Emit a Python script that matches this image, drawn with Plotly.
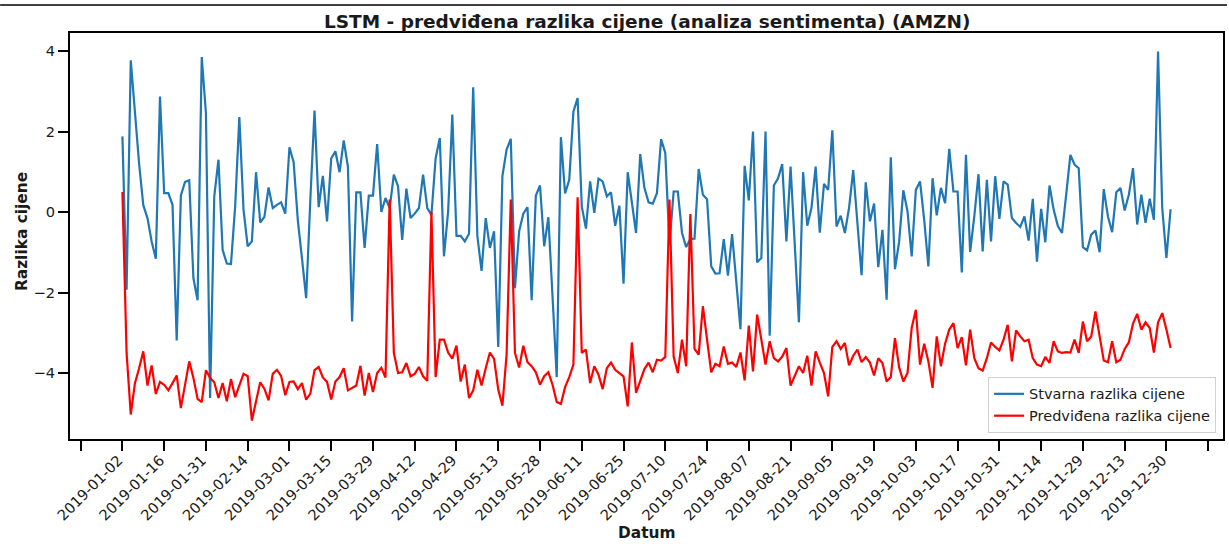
import plotly.graph_objects as go

# Daily price change of AMZN over the 2019 trading days (index 0 = 2019-01-02)
actual = [
    1.88, -1.93, 3.77, 2.5, 1.2, 0.17, -0.15, -0.73, -1.16, 2.87,
    0.47, 0.47, 0.18, -3.19, 0.41, 0.75, 0.79, -1.64, -2.19, 3.85,
    2.46, -4.62, 0.39, 1.30, -0.94, -1.28, -1.29, 0.14, 2.36, 0.06,
    -0.85, -0.73, 0.99, -0.26, -0.12, 0.61, 0.10, 0.18, 0.24, -0.04,
    1.61, 1.24, -0.2, -1.15, -2.14, 0.3, 2.52, 0.12, 0.90, -0.23,
    1.33, 1.51, 0.99, 1.78, 1.13, -2.72, 0.49, 0.49, -0.89, 0.41,
    0.41, 1.69, 0.0, 0.35, 0.10, 0.93, 0.64, -0.69, 0.58, -0.15,
    -0.04, 0.10, 0.93, 0.10, -0.07, 1.33, 1.84, -1.10, 0.02, 2.42,
    -0.59, -0.59, -0.73, -0.54, 3.10, -0.60, -1.46, -0.15, -0.89, -0.48,
    -3.35, 0.90, 1.55, 1.82, -1.89, -0.48, -0.04, 0.12, -2.19, 0.41,
    0.66, -0.85, -0.13, -2.1, -4.10, 1.86, 0.46, 0.80, 2.50, 2.83,
    0.14, -0.41, 0.76, -0.02, 0.83, 0.76, 0.39, 0.49, -0.34, 0.16,
    -1.78, 0.99, 0.22, -0.52, 1.44, 0.60, 0.24, 0.21, 0.47, 1.81,
    1.47, -0.81, 0.51, 0.51, -0.52, -0.87, -0.67, -0.66, 1.07, 0.43,
    0.32, -1.35, -1.53, -1.52, -0.67, -1.58, -0.55, -1.7, -2.91, 1.15,
    0.29, 2.00, -1.25, -1.14, 2.00, -3.07, 0.66, 0.84, 1.19, -0.73,
    1.13, -0.8, -2.74, 0.99, -0.34, 0.10, 1.13, -0.51, 0.70, 0.55,
    2.03, -0.36, -0.09, -0.52, 0.10, 1.04, -0.25, -1.57, 0.74, -0.23,
    0.21, -1.37, -0.44, -2.18, 1.36, -1.42, -0.73, 0.54, 0.02, -1.10,
    0.55, 0.76, -0.2, -1.35, 0.84, -0.08, 0.60, 0.22, 1.57, 0.51,
    0.51, -1.50, 1.42, -0.99, -0.1, 0.94, -0.98, 0.80, -0.73, 0.89,
    -0.17, 0.76, 0.68, -0.15, -0.27, -0.37, -0.11, -0.71, 0.33, -1.23,
    0.08, -0.75, 0.66, 0.06, -0.35, -0.52, 0.43, 1.42, 1.18, 1.09,
    -0.87, -0.95, -0.56, -0.46, -1.00, 0.57, -0.11, -0.50, 0.49, 0.60,
    0.04, 0.43, 1.09, -0.31, 0.43, -0.27, 0.33, -0.19, 3.99, 0.1,
    -1.14, 0.07,
]

# LSTM prediction of the same quantity (sentiment-based model)
predicted = [
    0.5, -3.5, -5.03, -4.25, -3.88, -3.46, -4.31, -3.81, -4.52, -4.22,
    -4.29, -4.43, -4.25, -4.06, -4.87, -4.33, -3.71, -4.12, -4.64, -4.72,
    -3.93, -4.12, -4.23, -4.62, -4.25, -4.70, -4.15, -4.60, -4.33, -4.02,
    -4.08, -5.18, -4.70, -4.23, -4.39, -4.68, -4.02, -3.92, -4.07, -4.55,
    -4.22, -4.21, -4.40, -4.25, -4.66, -4.51, -3.93, -3.85, -4.11, -4.22,
    -4.66, -4.21, -4.10, -3.88, -4.43, -4.37, -4.31, -3.82, -4.56, -4.00,
    -4.47, -4.00, -3.87, -4.11, 0.31, -3.50, -4.00, -3.98, -3.75, -4.08,
    -4.02, -3.85, -4.08, -4.19, 0.0, -4.10, -3.17, -3.17, -3.49, -3.64,
    -3.32, -4.21, -3.79, -4.62, -4.43, -3.92, -4.31, -3.88, -3.49, -3.65,
    -4.41, -4.81, -3.54, 0.31, -3.50, -3.86, -3.32, -3.73, -3.83, -3.98,
    -4.29, -4.08, -3.98, -4.29, -4.72, -4.77, -4.35, -4.10, -3.79, 0.37,
    -3.50, -3.42, -4.25, -3.83, -4.04, -4.40, -3.88, -3.74, -3.92, -4.00,
    -4.08, -4.83, -3.24, -4.49, -4.17, -3.90, -3.74, -3.98, -3.67, -3.69,
    -3.60, 0.31, -3.59, -4.00, -3.17, -3.83, -0.05, -3.40, -3.54, -2.34,
    -3.17, -3.98, -3.77, -3.83, -3.34, -3.77, -3.74, -3.85, -3.49, -4.18,
    -2.82, -3.96, -2.55, -3.17, -3.79, -3.21, -3.63, -3.71, -3.59, -3.38,
    -4.31, -4.07, -3.83, -4.00, -3.57, -4.31, -3.46, -3.74, -4.00, -4.58,
    -3.35, -3.21, -3.40, -3.25, -3.81, -3.57, -3.42, -3.73, -3.60, -3.74,
    -4.06, -3.63, -3.75, -4.21, -4.10, -3.13, -3.86, -4.21, -4.00, -2.88,
    -2.43, -3.79, -3.27, -3.71, -4.37, -3.09, -3.83, -3.27, -2.92, -2.76,
    -3.38, -3.11, -3.81, -2.92, -3.63, -3.88, -3.94, -3.63, -3.24, -3.35,
    -3.44, -3.17, -2.80, -3.71, -2.94, -3.09, -3.21, -3.17, -3.63, -3.79,
    -3.83, -3.60, -3.75, -3.21, -3.46, -3.50, -3.48, -3.49, -3.17, -3.50,
    -2.72, -3.21, -3.09, -2.47, -3.13, -3.69, -3.73, -3.21, -3.73, -3.67,
    -3.40, -3.24, -2.77, -2.53, -2.92, -2.74, -2.88, -3.49, -2.74, -2.51,
    -2.92, -3.38,
]

# Dates shown under every 10th trading day
tick_labels = [
    "2019-01-02", "2019-01-16", "2019-01-31", "2019-02-14", "2019-03-01",
    "2019-03-15", "2019-03-29", "2019-04-12", "2019-04-29", "2019-05-13",
    "2019-05-28", "2019-06-11", "2019-06-25", "2019-07-10", "2019-07-24",
    "2019-08-07", "2019-08-21", "2019-09-05", "2019-09-19", "2019-10-03",
    "2019-10-17", "2019-10-31", "2019-11-14", "2019-11-29", "2019-12-13",
    "2019-12-30",
]

x = list(range(len(actual)))
tickvals = list(range(-10, 10 * len(tick_labels) + 1, 10))
ticktext = [""] + tick_labels + [""]

FONT = "DejaVu Sans"
TXT = "#1a1a1a"

fig = go.Figure()
fig.add_trace(go.Scatter(
    x=x, y=actual, mode="lines", name="Stvarna razlika cijene",
    line=dict(color="#1f77b4", width=2.2),
))
fig.add_trace(go.Scatter(
    x=x, y=predicted, mode="lines", name="Predviđena razlika cijene",
    line=dict(color="#ff0000", width=2.2),
))

n = len(actual) - 1
pad = 0.05 * n
lo, hi = min(min(actual), min(predicted)), max(max(actual), max(predicted))
ypad = 0.05 * (hi - lo)

axis_common = dict(
    showline=True, linecolor="black", linewidth=2.2, mirror=True,
    ticks="outside", ticklen=10, tickwidth=2, tickcolor="black",
    showgrid=False, zeroline=False,
    tickfont=dict(family=FONT, size=14.6, color=TXT),
)

fig.update_layout(
    width=1229, height=544,
    margin=dict(l=70, r=4, t=33, b=105),
    paper_bgcolor="white", plot_bgcolor="white",
    font=dict(family=FONT, color=TXT),
    xaxis=dict(range=[-pad, n + pad], tickmode="array", tickvals=tickvals,
               ticktext=ticktext, tickangle=-45,
               ticklabelstandoff=-5, ticklabelshift=-4, **axis_common),
    yaxis=dict(range=[lo - ypad, hi + ypad], tickmode="array",
               tickvals=[-4, -2, 0, 2, 4], **axis_common),
    legend=dict(
        x=0.994, y=0.015, xanchor="right", yanchor="bottom",
        bgcolor="white", bordercolor="#d0d0d0", borderwidth=1,
        font=dict(family=FONT, size=14.5, color=TXT),
        tracegroupgap=0,
    ),
    showlegend=True,
)

fig.add_annotation(
    text="<b>LSTM - predviđena razlika cijene (analiza sentimenta) (AMZN)</b>",
    xref="paper", yref="paper", x=0.5, y=1 + (33 - 21) / 406,
    xanchor="center", yanchor="middle", showarrow=False,
    font=dict(family=FONT, size=18.5, color=TXT),
)
fig.add_annotation(
    text="<b>Datum</b>", xref="paper", yref="paper",
    x=0.5, y=-(533 - 439) / 406, xanchor="center", yanchor="middle",
    showarrow=False, font=dict(family=FONT, size=15.4, color=TXT),
)
fig.add_annotation(
    text="<b>Razlika cijene</b>", xref="paper", yref="paper",
    x=-(70 - 22) / 1155, y=(439 - 232) / 406, xanchor="center",
    yanchor="middle", textangle=-90, showarrow=False,
    font=dict(family=FONT, size=15.4, color=TXT),
)

# thin rule along the top edge of the canvas
fig.add_shape(
    type="line", xref="paper", yref="paper",
    x0=-70 / 1155, x1=(1229 - 70) / 1155,
    y0=1 + (33 - 5) / 406, y1=1 + (33 - 5) / 406,
    line=dict(color="black", width=1.3),
)

fig.write_html("out.html")
